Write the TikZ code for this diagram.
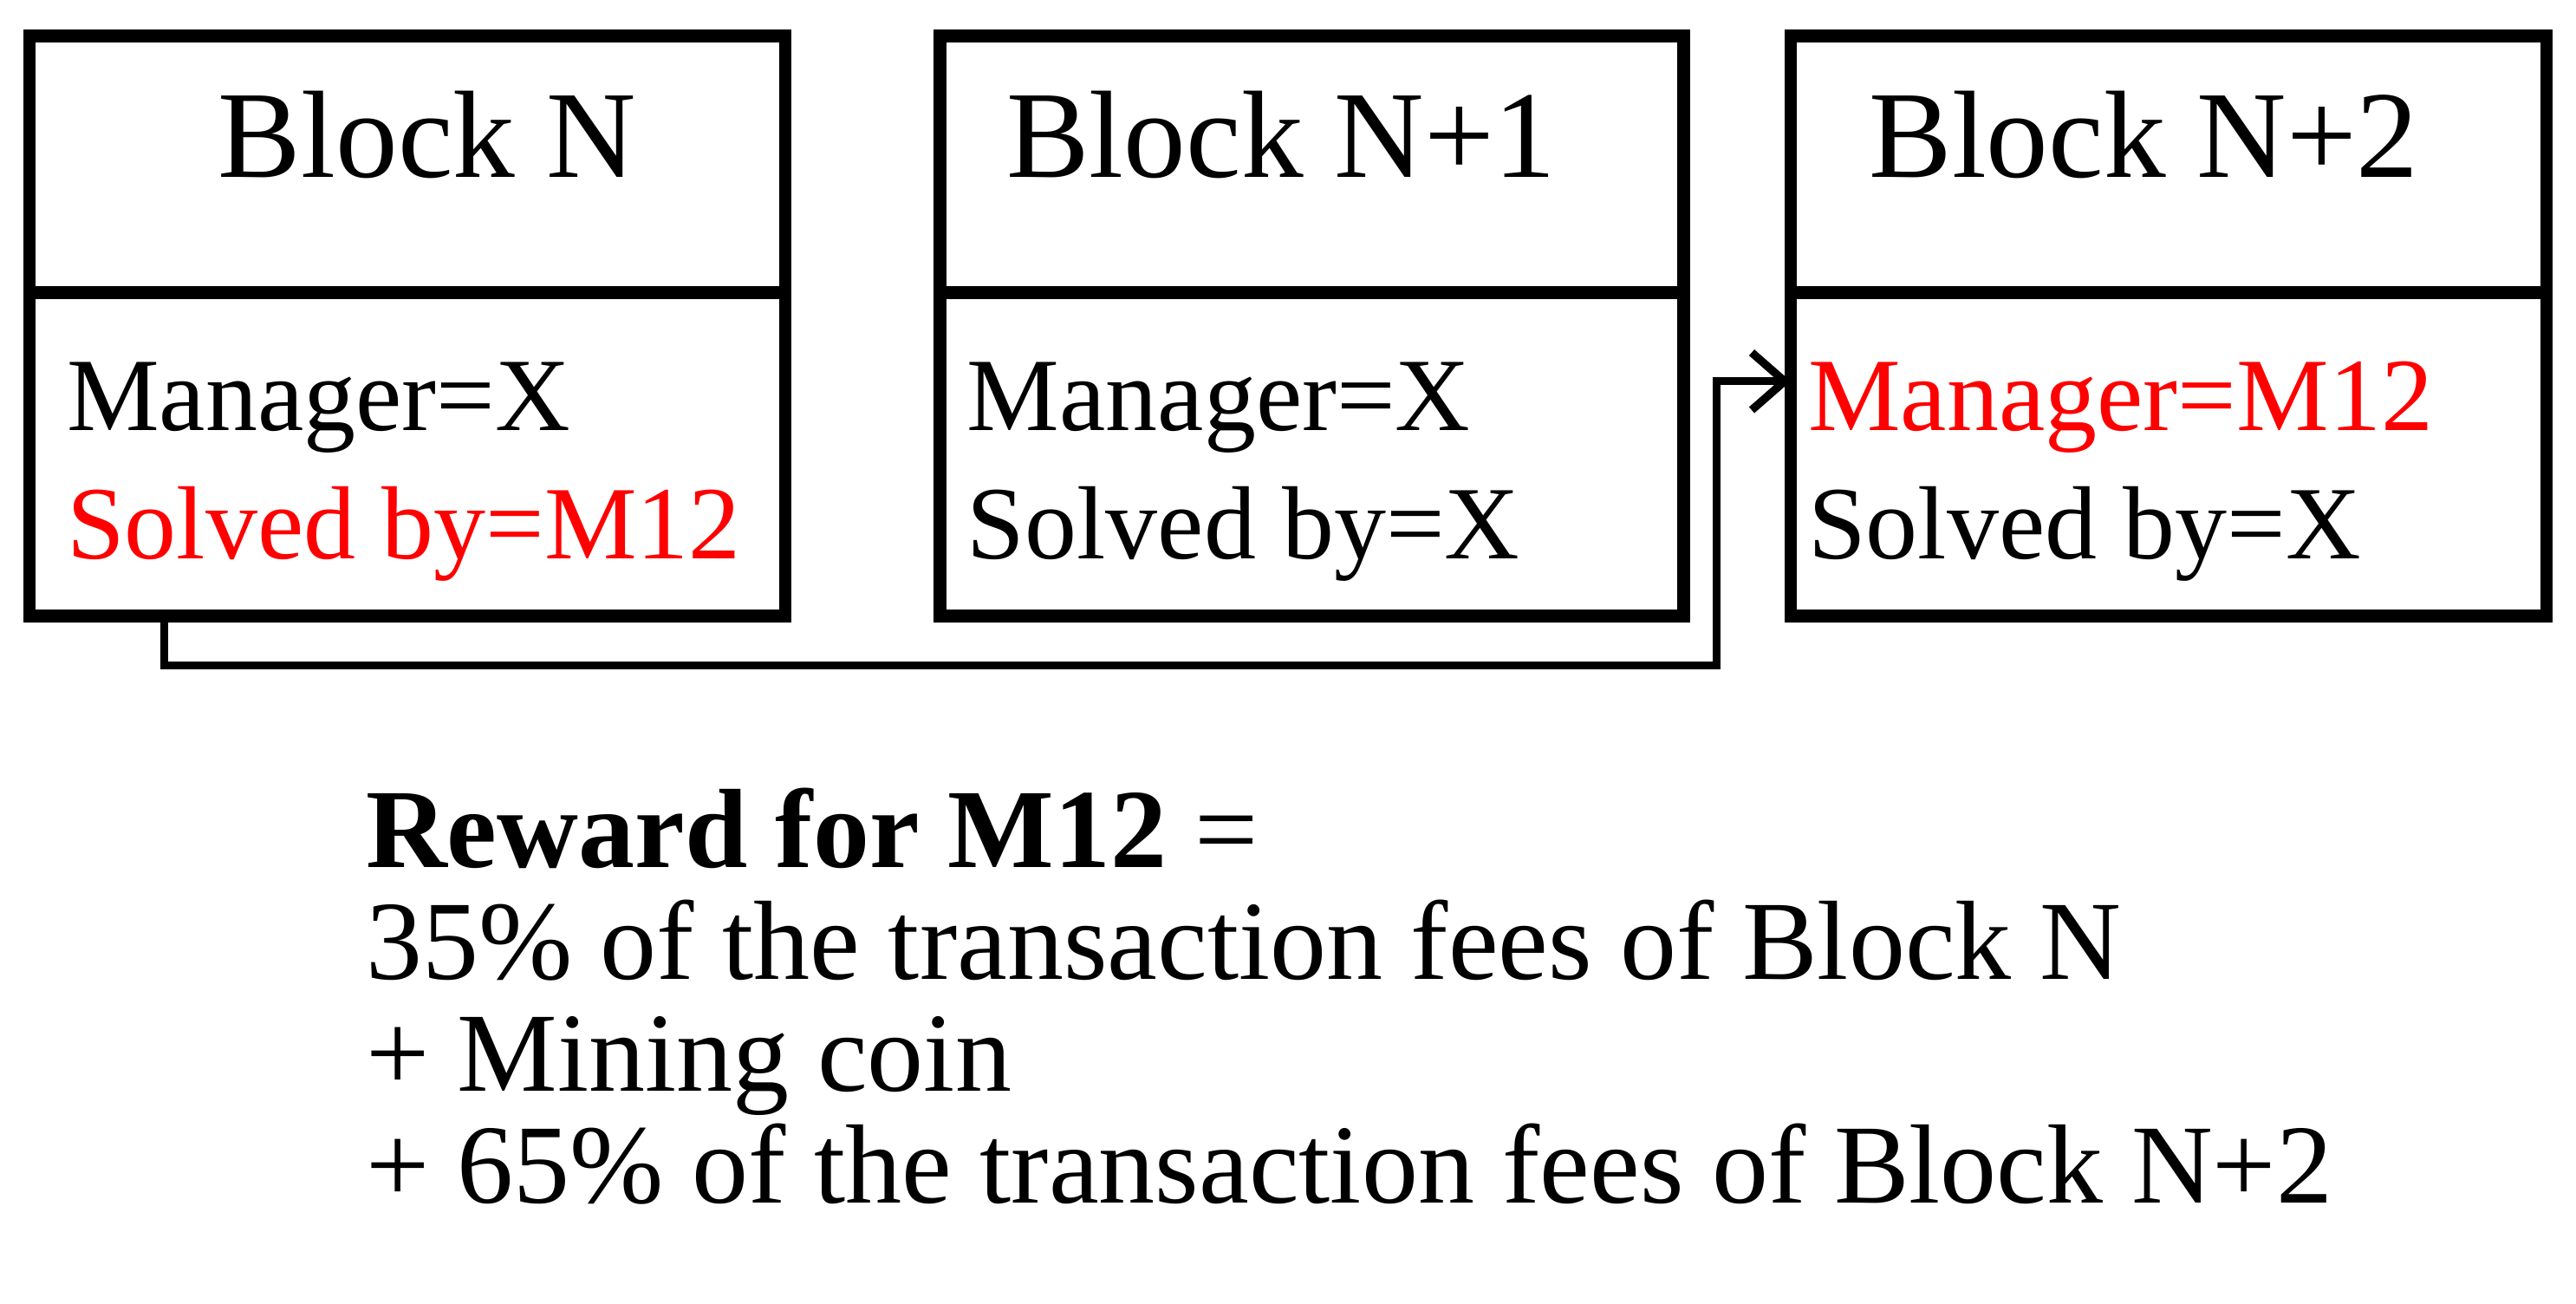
\documentclass[tikz,border=0pt]{standalone}
\usepackage{fontspec}
\setmainfont{Liberation Serif}
\usetikzlibrary{positioning,arrows.meta}
\begin{document}
\begin{tikzpicture}[x=0.01cm,y=-0.01cm,
  box/.style={draw,line width=2.2pt},
  inner/.style={anchor=base west,font=\fontsize{18}{22}\selectfont,inner sep=0pt},
  head/.style={anchor=base,font=\fontsize{21.5}{26}\selectfont,inner sep=0pt},
  rew/.style={anchor=base west,font=\fontsize{19.5}{24}\selectfont,inner sep=0pt}]
  \useasboundingbox (0,0) rectangle (1568,793);

  % blocks
  \foreach \l/\r/\name in {18/478/bN,572/1025/bNa,1090/1550/bNb}
    {
      \draw[box] (\l,22) rectangle (\r,375);
      \draw[box] (\l,178) -- (\r,178);
      \coordinate (\name) at (\l,232);
    }

  \node[head] (tN) at (260,108) {Block N};
  \node[head] (tNa) at (780,108) {Block N+1};
  \node[head] (tNb) at (1305,108) {Block N+2};

  \node[inner] (mN) at (40,262) {Manager=X};
  \node[inner,red] (sN) at (40,340) {Solved by=M12};
  \node[inner] (mNa) at (588,262) {Manager=X};
  \node[inner] (sNa) at (588,340) {Solved by=X};
  \node[inner,red] (mNb) at (1100,262) {Manager=M12};
  \node[inner] (sNb) at (1100,340) {Solved by=X};

  % connector
  \coordinate (start) at (100,375);
  \draw[line width=1.4pt,-{Straight Barb[length=2mm,width=3.5mm]}] (start) |- (1045,405) |- (bNb);

  % reward
  \node[rew] (r0) at (222,528) {\textbf{Reward for M12} =};
  \node[rew] (r1) at (222,596) {35\% of the transaction fees of Block N};
  \node[rew] (r2) at (222,664) {+ Mining coin};
  \node[rew] (r3) at (222,732) {+ 65\% of the transaction fees of Block N+2};
\end{tikzpicture}
\end{document}
